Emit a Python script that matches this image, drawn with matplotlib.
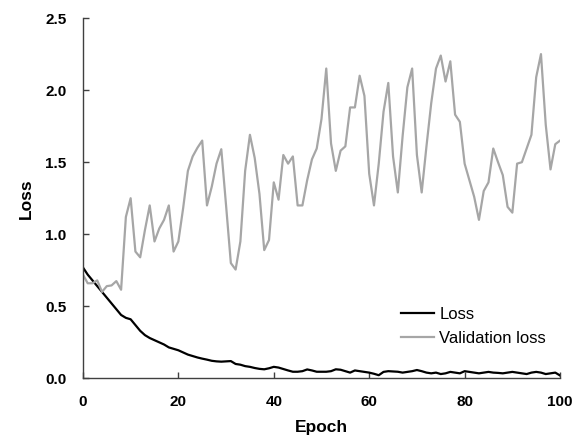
import matplotlib
matplotlib.use("Agg")
import matplotlib.pyplot as plt
import numpy as np

plt.rcParams['font.family'] = ['Liberation Sans', 'DejaVu Sans']

# per-epoch values
epochs = np.arange(0, 101)

loss = [0.77, 0.72, 0.68, 0.64, 0.60, 0.56, 0.52, 0.48, 0.44, 0.42,
        0.41, 0.37, 0.33, 0.30, 0.28, 0.265, 0.25, 0.235, 0.215, 0.205,
        0.195, 0.18, 0.165, 0.155, 0.145, 0.137, 0.13, 0.122, 0.118, 0.116,
        0.118, 0.12, 0.10, 0.095, 0.085, 0.08, 0.072, 0.066, 0.063, 0.07,
        0.08, 0.075, 0.065, 0.055, 0.046, 0.046, 0.05, 0.062, 0.055, 0.046,
        0.046, 0.046, 0.05, 0.063, 0.06, 0.05, 0.04, 0.055, 0.05, 0.045,
        0.04, 0.032, 0.022, 0.045, 0.05, 0.048, 0.046, 0.04, 0.045, 0.05,
        0.058, 0.05, 0.04, 0.035, 0.04, 0.03, 0.035, 0.045, 0.04, 0.035,
        0.05, 0.045, 0.04, 0.035, 0.04, 0.045, 0.04, 0.038, 0.035, 0.04,
        0.045, 0.04, 0.035, 0.03, 0.04, 0.045, 0.04, 0.03, 0.035, 0.04,
        0.02]

val_loss = [0.72, 0.66, 0.66, 0.68, 0.60, 0.64, 0.645, 0.675, 0.615, 1.12,
            1.25, 0.88, 0.84, 1.03, 1.20, 0.95, 1.04, 1.10, 1.20, 0.88,
            0.95, 1.18, 1.44, 1.54, 1.60, 1.65, 1.20, 1.33, 1.49, 1.59,
            1.20, 0.80, 0.755, 0.95, 1.44, 1.69, 1.53, 1.28, 0.89, 0.96,
            1.36, 1.24, 1.55, 1.49, 1.54, 1.20, 1.20, 1.375, 1.52, 1.595,
            1.80, 2.15, 1.63, 1.44, 1.58, 1.61, 1.88, 1.88, 2.10, 1.96,
            1.42, 1.20, 1.49, 1.85, 2.05, 1.54, 1.29, 1.68, 2.02, 2.15,
            1.55, 1.29, 1.61, 1.91, 2.15, 2.24, 2.06, 2.20, 1.83, 1.78,
            1.49, 1.375, 1.26, 1.10, 1.30, 1.36, 1.595, 1.50, 1.41, 1.19,
            1.15, 1.49, 1.50, 1.595, 1.69, 2.09, 2.25, 1.76, 1.45, 1.625,
            1.65]

x_ticks = [0, 20, 40, 60, 80, 100]
y_ticks = [0.0, 0.5, 1.0, 1.5, 2.0, 2.5]

fig = plt.figure(figsize=(5.84, 4.41), dpi=100)
ax = fig.add_axes([0.142, 0.142, 0.817, 0.817])

ax.plot(epochs, loss, color='black', lw=1.6, label='Loss')
ax.plot(epochs, val_loss, color='#a6a6a6', lw=1.6, label='Validation loss')

ax.set_xlim(0, 100)
ax.set_ylim(0, 2.5)
ax.set_xticks(x_ticks)
ax.set_yticks(y_ticks)
ax.set_yticklabels([f"{v:.1f}" for v in y_ticks])

for s in ['top', 'right']:
    ax.spines[s].set_visible(False)
for s in ['left', 'bottom']:
    ax.spines[s].set_color('#404040')
    ax.spines[s].set_linewidth(1.0)

ax.tick_params(direction='in', length=4, width=1, color='#404040',
               labelsize=11, pad=12)
for lbl in ax.get_xticklabels() + ax.get_yticklabels():
    lbl.set_fontweight('bold')

ax.set_xlabel('Epoch', fontsize=12.5, fontweight='bold', labelpad=8)
ax.set_ylabel('Loss', fontsize=12.5, fontweight='bold', labelpad=8)

ax.legend(loc='upper left', bbox_to_anchor=(401 / 584, 1 - 307 / 441),
          bbox_transform=fig.transFigure, frameon=False,
          fontsize=12, handlelength=2.0, handletextpad=0.3,
          labelspacing=0.52, borderpad=0, borderaxespad=0)

fig.savefig('out.png', dpi=100)
